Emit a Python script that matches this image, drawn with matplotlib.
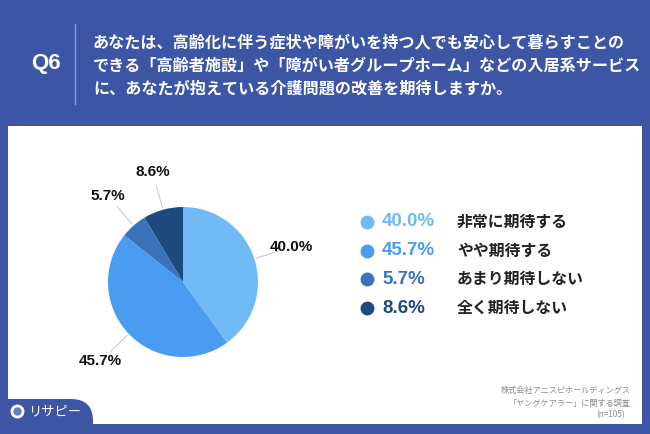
import matplotlib.pyplot as plt
import numpy as np
from matplotlib.patches import Rectangle, FancyBboxPatch

plt.rcParams['font.family'] = ['Noto Sans CJK JP', 'DejaVu Sans']

# data
labels = ['非常に期待する', 'やや期待する', 'あまり期待しない', '全く期待しない']
values = [40.0, 45.7, 5.7, 8.6]
colors = ['#72BAF6', '#4A9CF1', '#3A73BA', '#1F4A7F']
question = ['あなたは、高齢化に伴う症状や障がいを持つ人でも安心して暮らすことの',
            'できる「高齢者施設」や「障がい者グループホーム」などの入居系サービス',
            'に、あなたが抱えている介護問題の改善を期待しますか。']
source = ['株式会社アニスピホールディングス', '「ヤングケアラー」に関する調査', '(n=105)']

W, H = 650, 434
bg = '#3C56A5'
fig = plt.figure(figsize=(W / 100, H / 100), dpi=100)
fig.patch.set_facecolor(bg)

# pixel-coordinate canvas
base = fig.add_axes([0, 0, 1, 1])
base.set_xlim(0, W)
base.set_ylim(H, 0)
base.axis('off')

base.add_patch(Rectangle((8, 126), 634, 298, facecolor='white', edgecolor='none'))
base.add_patch(FancyBboxPatch((-30, 399), 123, 60, boxstyle='round,pad=0,rounding_size=22',
                              facecolor=bg, edgecolor='none'))
base.add_patch(Rectangle((0, 424), W, 10, facecolor=bg, edgecolor='none'))

# header
base.text(46, 64, 'Q6', color='white', fontsize=16, fontweight='bold',
          ha='center', va='center', family=['Liberation Sans', 'DejaVu Sans'])
base.plot([75, 75], [24, 104], color='#8C9DD2', lw=1)
for i, line in enumerate(question):
    base.text(93, 42 + i * 23.5, line, color='white', fontsize=11.6,
              fontweight='bold', ha='left', va='center')

# legend
for i, (lab, v, c) in enumerate(zip(labels, values, colors)):
    y = 222 + i * 28.7
    base.plot(367, y, 'o', ms=9, color=c)
    base.text(382, y, f'{v:.1f}%', color=c, fontsize=13.5, fontweight='bold',
              ha='left', va='center', family=['Liberation Sans', 'DejaVu Sans'])
    base.text(457, y, lab, color='#222222', fontsize=11.4, fontweight='bold',
              ha='left', va='center')

# source note
for i, line in enumerate(source):
    xr = 631 if i < 2 else 625
    base.text(xr, 391 + i * 12, line, color='#8A8A8A', fontsize=5.9,
              ha='right', va='center')

# logo
base.plot(17, 411, 'o', ms=9, color='white')
base.plot(17, 411, 'o', ms=5, color='#5F7FC4')
base.text(28, 412, 'リサピー', color='white', fontsize=9.5,
          ha='left', va='center')

# pie
cx, cy, r = 183, 282, 75
pax = fig.add_axes([(cx - r) / W, (H - cy - r) / H, 2 * r / W, 2 * r / H])
wedges, _ = pax.pie(values, colors=colors, startangle=90, counterclock=False,
                    radius=1, wedgeprops=dict(linewidth=0))
pax.set_xlim(-1, 1)
pax.set_ylim(-1, 1)
for w, v in zip(wedges, values):
    ang = np.deg2rad((w.theta1 + w.theta2) / 2)
    ca, sa = np.cos(ang), np.sin(ang)
    pax.plot([1.03 * ca, 1.33 * ca], [1.03 * sa, 1.33 * sa], color='#CCCCCC',
             lw=0.8, clip_on=False)
    pax.text(1.52 * ca, 1.52 * sa, f'{v:.1f}%', ha='center', va='center',
             fontsize=11, fontweight='bold', color='#111111',
             family=['Liberation Sans', 'DejaVu Sans'])

fig.savefig('out.png', dpi=100, facecolor=bg)
